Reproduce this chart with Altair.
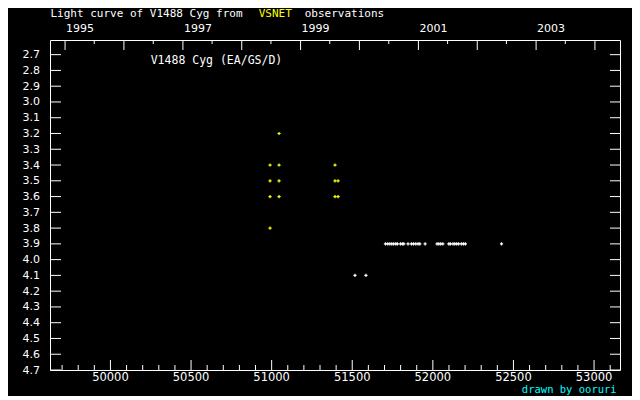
import altair as alt
import pandas as pd

# ---- observations (JD - 2400000, magnitude) ----
yellow_jd = [51046, 50990, 51046, 51393, 50990, 51046, 51393, 51412,
             50990, 51046, 51393, 51412, 50990]
yellow_mag = [3.2, 3.4, 3.4, 3.4, 3.5, 3.5, 3.5, 3.5,
              3.6, 3.6, 3.6, 3.6, 3.8]
white_jd = [51706, 51720, 51733, 51745, 51757, 51770, 51780, 51799, 51811, 51820,
            51846, 51867, 51880, 51894, 51908, 51919, 51952, 52026, 52037, 52049,
            52062, 52099, 52109, 52125, 52136, 52148, 52160, 52177, 52190, 52202,
            52426, 51517, 51585]
white_mag = [3.9, 3.9, 3.9, 3.9, 3.9, 3.9, 3.9, 3.9, 3.9, 3.9,
             3.9, 3.9, 3.9, 3.9, 3.9, 3.9, 3.9, 3.9, 3.9, 3.9,
             3.9, 3.9, 3.9, 3.9, 3.9, 3.9, 3.9, 3.9, 3.9, 3.9,
             3.9, 4.1, 4.1]

# ---- axis ticks / labels ----
x_major = [50000, 50500, 51000, 51500, 52000, 52500, 53000]
x_major_lab = ["50000", "50500", "51000", "51500", "52000", "52500", "53000"]
x_minor = [49700, 49800, 49900, 50100, 50200, 50300, 50400, 50600, 50700, 50800,
           50900, 51100, 51200, 51300, 51400, 51600, 51700, 51800, 51900, 52100,
           52200, 52300, 52400, 52600, 52700, 52800, 52900, 53100]
year_jd = [49718.5, 50083.5, 50449.5, 50814.5, 51179.5, 51544.5, 51910.5,
           52275.5, 52640.5, 53005.5]
year_lab = ["1995", "", "1997", "", "1999", "", "2001", "", "2003", ""]
halfyear_jd = [49899.5, 50265.5, 50630.5, 50995.5, 51360.5, 51726.5, 52091.5,
               52456.5, 52821.5]
y_ticks = [2.7, 2.8, 2.9, 3.0, 3.1, 3.2, 3.3, 3.4, 3.5, 3.6, 3.7, 3.8, 3.9,
           4.0, 4.1, 4.2, 4.3, 4.4, 4.5, 4.6, 4.7]
y_lab = ["2.7", "2.8", "2.9", "3.0", "3.1", "3.2", "3.3", "3.4", "3.5", "3.6",
         "3.7", "3.8", "3.9", "4.0", "4.1", "4.2", "4.3", "4.4", "4.5", "4.6", "4.7"]

W, H = 570, 330
FONT = "DejaVu Sans"
MONO = "DejaVu Sans Mono"
FS = 11

xs = alt.Scale(domain=[49625, 53161], nice=False, zero=False)
ys = alt.Scale(domain=[2.607, 4.7], nice=False, zero=False, reverse=True)

def X(f="jd"):
    return alt.X(f + ":Q", scale=xs, axis=None)

def Y(f="mag"):
    return alt.Y(f + ":Q", scale=ys, axis=None)

cross = "M-1,0H1M0,-1V1"

df_y = pd.DataFrame({"jd": yellow_jd, "mag": yellow_mag})
df_w = pd.DataFrame({"jd": white_jd, "mag": white_mag})

pts_y = alt.Chart(df_y).mark_point(shape=cross, filled=False, size=10,
                                   strokeWidth=1.2, color="#ffff00", opacity=1
                                   ).encode(x=X(), y=Y())
pts_w = alt.Chart(df_w).mark_point(shape=cross, filled=False, size=10,
                                   strokeWidth=1.2, color="#ffffff", opacity=1
                                   ).encode(x=X(), y=Y())

df_xmaj = pd.DataFrame({"jd": x_major, "lab": x_major_lab})
df_xmin = pd.DataFrame({"jd": x_minor})
df_year = pd.DataFrame({"jd": year_jd, "lab": year_lab})
df_half = pd.DataFrame({"jd": halfyear_jd})
df_yt = pd.DataFrame({"mag": y_ticks, "lab": y_lab})

rule = dict(color="white", strokeWidth=1)
t_xmaj = alt.Chart(df_xmaj).mark_rule(**rule).encode(x=X(), y=alt.value(H), y2=alt.value(H - 10))
t_xmin = alt.Chart(df_xmin).mark_rule(**rule).encode(x=X(), y=alt.value(H), y2=alt.value(H - 5))
t_year = alt.Chart(df_year).mark_rule(**rule).encode(x=X(), y=alt.value(0), y2=alt.value(10))
t_half = alt.Chart(df_half).mark_rule(**rule).encode(x=X(), y=alt.value(0), y2=alt.value(4))
t_yl = alt.Chart(df_yt).mark_rule(**rule).encode(y=Y(), x=alt.value(0), x2=alt.value(11))
t_yr = alt.Chart(df_yt).mark_rule(**rule).encode(y=Y(), x=alt.value(W - 10), x2=alt.value(W))

txt = dict(font=FONT, fontSize=FS, color="white")
mtxt = dict(font=MONO, fontSize=FS, color="white")
l_x = alt.Chart(df_xmaj).mark_text(align="center", baseline="alphabetic",
                                   font=FONT, fontSize=11.5, color="white").encode(
    x=X(), y=alt.value(H + 10.5), text="lab:N")
l_year = alt.Chart(df_year).mark_text(align="left", baseline="alphabetic", dx=1, **txt).encode(
    x=X(), y=alt.value(-8), text="lab:N")
l_y = alt.Chart(df_yt).mark_text(align="right", baseline="middle", dy=0.5, **txt).encode(
    y=Y(), x=alt.value(-10), text="lab:N")

title1 = alt.Chart(pd.DataFrame({"t": ["Light curve of V1488 Cyg from"]})).mark_text(
    align="left", baseline="alphabetic", **mtxt).encode(x=alt.value(0.5), y=alt.value(-23.3), text="t:N")
title2 = alt.Chart(pd.DataFrame({"t": ["VSNET"]})).mark_text(
    align="left", baseline="alphabetic", font=MONO, fontSize=FS, color="#ffff00").encode(
    x=alt.value(208.7), y=alt.value(-23.3), text="t:N")
title3 = alt.Chart(pd.DataFrame({"t": ["observations"]})).mark_text(
    align="left", baseline="alphabetic", **mtxt).encode(x=alt.value(254.7), y=alt.value(-23.3), text="t:N")
inner = alt.Chart(pd.DataFrame({"t": ["V1488 Cyg (EA/GS/D)"]})).mark_text(
    align="left", baseline="alphabetic", font=MONO, fontSize=11.5, color="white").encode(
    x=alt.value(100.7), y=alt.value(24), text="t:N")
credit = alt.Chart(pd.DataFrame({"t": ["drawn by ooruri"]})).mark_text(
    align="right", baseline="alphabetic", font=MONO, fontSize=10.5, color="#00ffff").encode(
    x=alt.value(566.7), y=alt.value(H + 22.5), text="t:N")

chart = alt.layer(
    t_xmaj, t_xmin, t_year, t_half, t_yl, t_yr,
    l_x, l_year, l_y, title1, title2, title3, inner, credit,
    pts_y, pts_w,
).properties(
    width=W, height=H,
    padding={"left": 42, "top": 32, "right": 12, "bottom": 26},
    autosize=alt.AutoSizeParams(type="none"),
    background="black",
).configure_view(stroke="white", strokeWidth=1)

chart.save("out.html", embed_options={"renderer": "svg", "actions": False})
